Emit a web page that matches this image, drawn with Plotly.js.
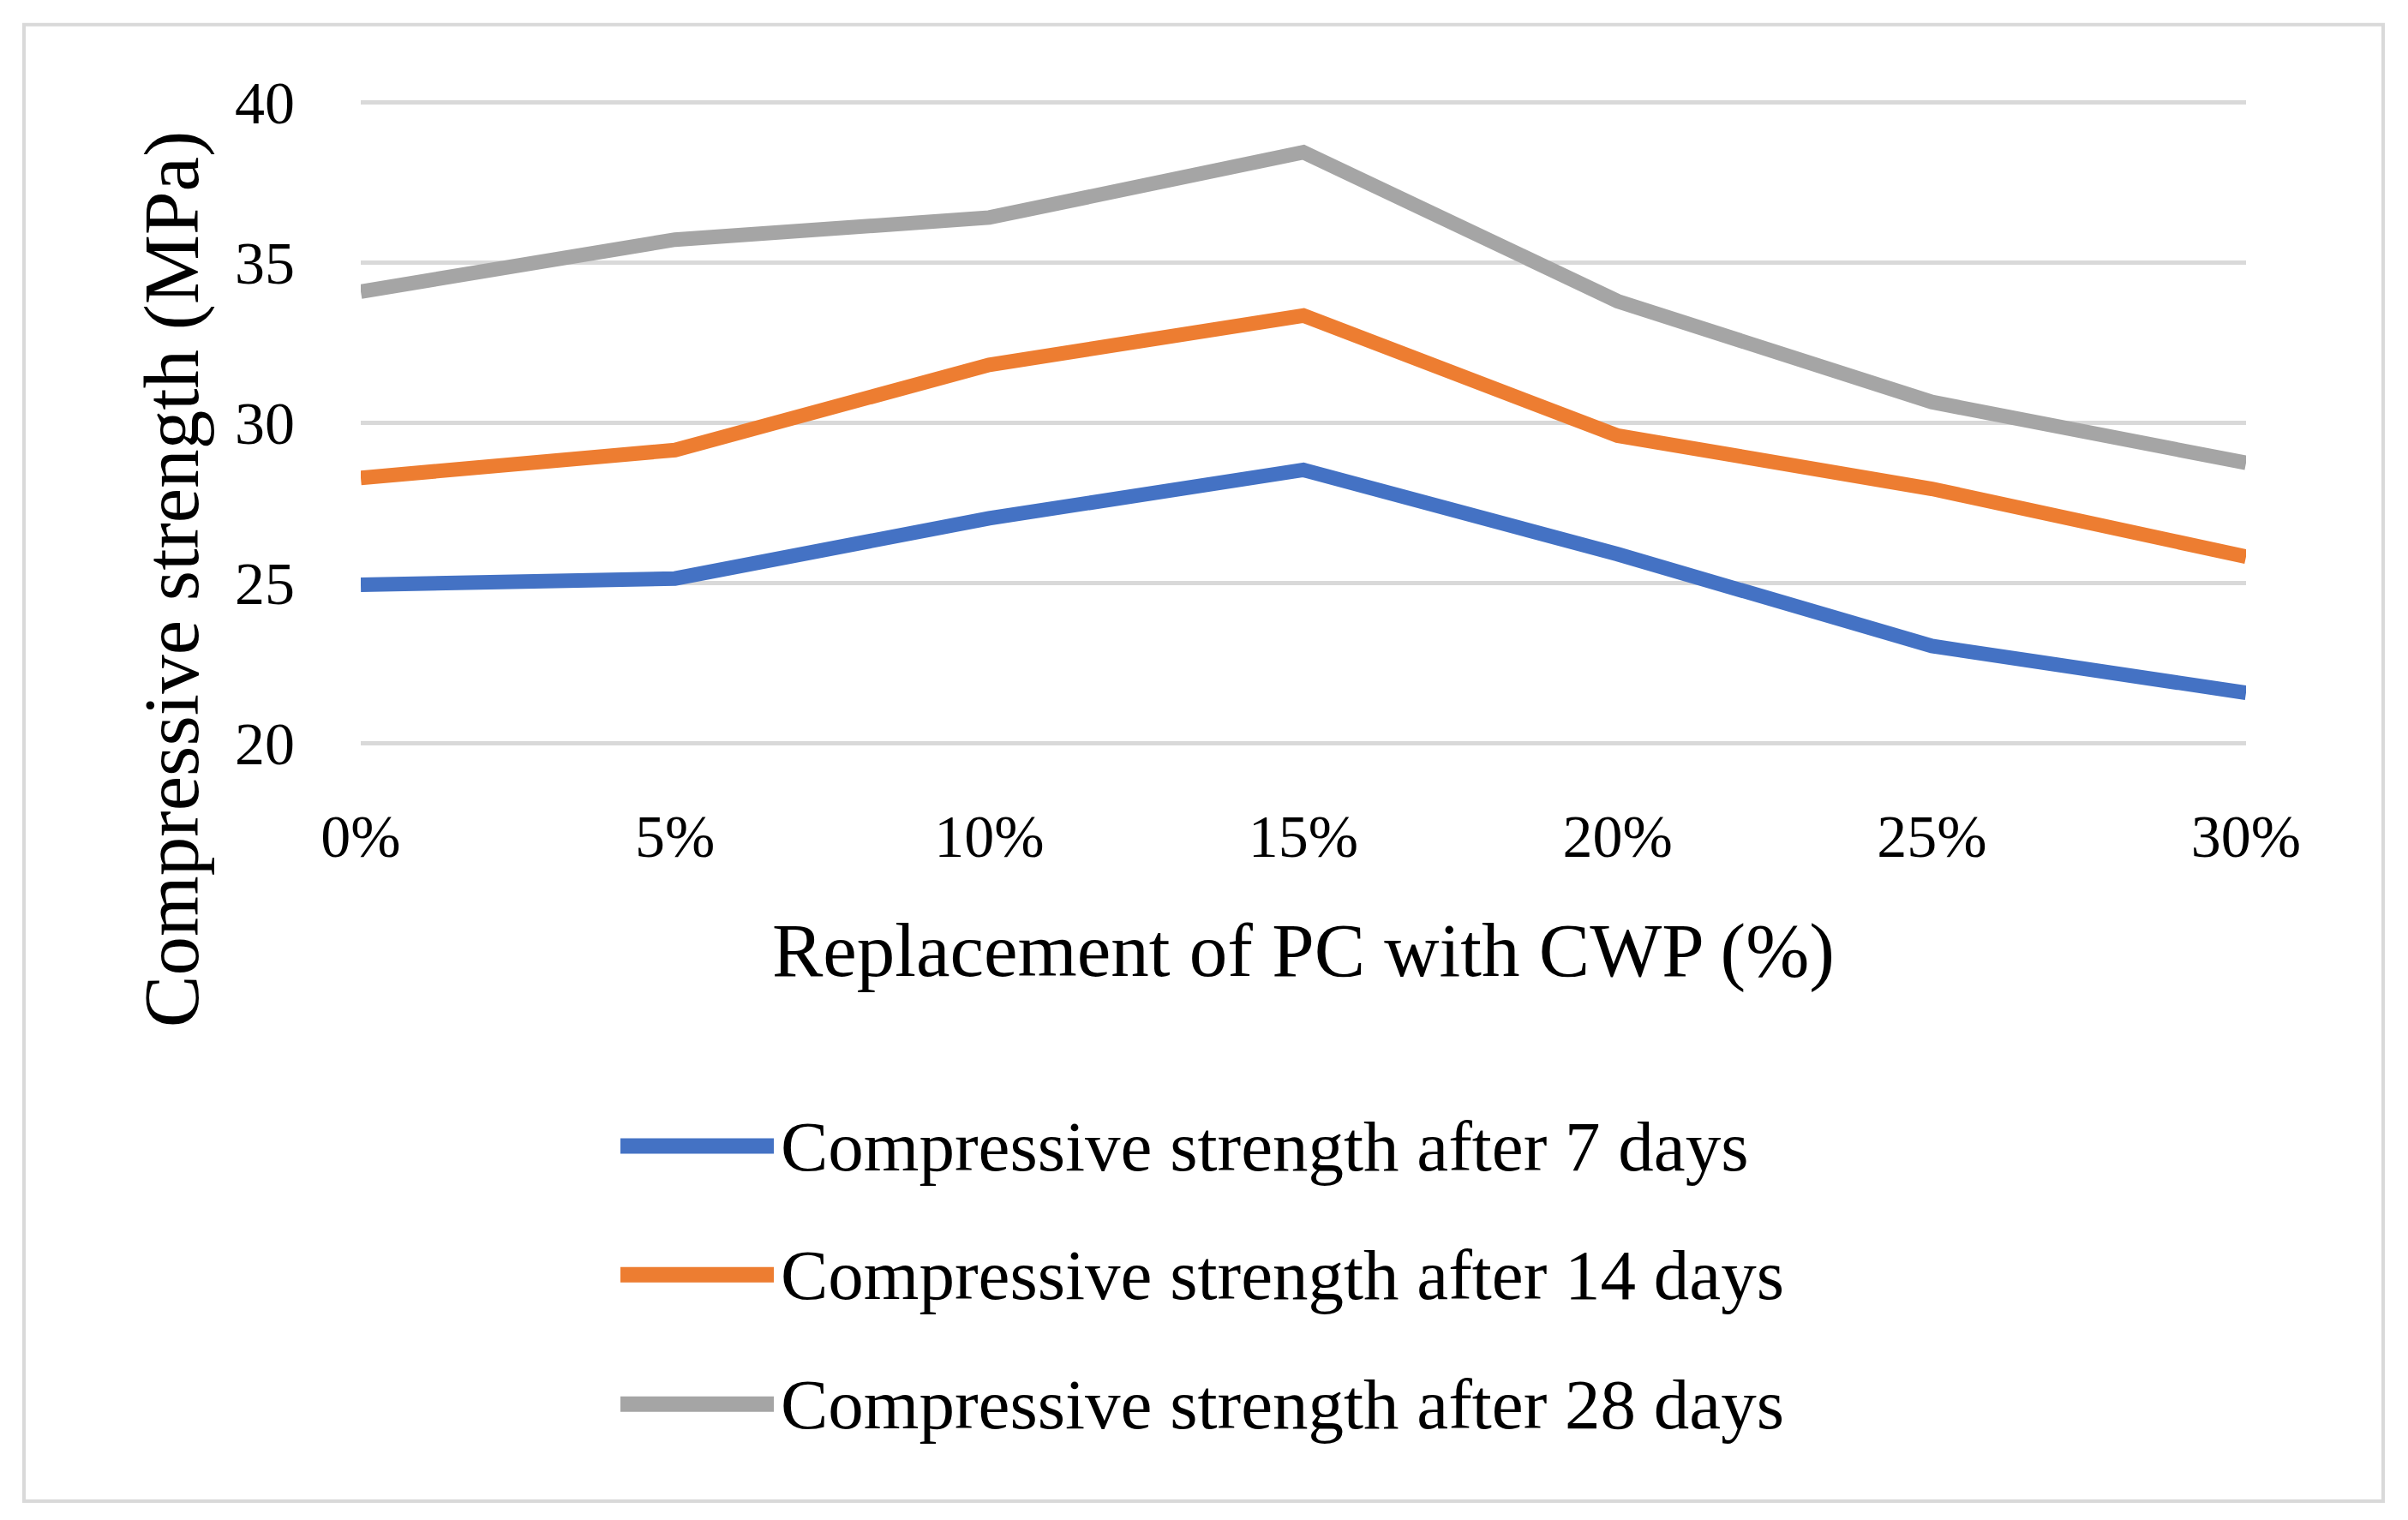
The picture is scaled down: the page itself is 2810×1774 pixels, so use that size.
<!DOCTYPE html>
<html>
<head>
<meta charset="utf-8">
<script src="https://cdn.plot.ly/plotly-3.0.1.min.js"></script>
<style>html,body{margin:0;padding:0;background:#fff;}#chart{width:2810px;height:1774px;}</style>
</head>
<body>
<div id="chart"></div>
<script>
const categories = ["0%", "5%", "10%", "15%", "20%", "25%", "30%"];
const seriesNames = [
  "Compressive strength after 7 days",
  "Compressive strength after 14 days",
  "Compressive strength after 28 days"
];
const days7  = [24.94, 25.14, 27.02, 28.53, 25.9, 23.03, 21.57];
const days14 = [28.28, 29.15, 31.81, 33.35, 29.6, 27.94, 25.82];
const days28 = [34.1, 35.72, 36.41, 38.45, 33.8, 30.65, 28.75];
const yTicks = [20, 25, 30, 35, 40];
const xTitle = "Replacement of PC with CWP (%)";
const yTitle = "Compressive strength (MPa)";

const colors = ["#4472C4", "#ED7D31", "#A5A5A5"];
const values = [days7, days14, days28];
const FONT = "Liberation Serif, Times New Roman, serif";

// plot area in pixels (20..40 spans 120..867 px); range padded slightly so edge gridlines draw
const W = 2810, H = 1774;
const pad = 0.1, pxPerUnit = (867 - 120) / 20;
const L = 421, R = 2621, T = 120 - pad * pxPerUnit, B = 867 + pad * pxPerUnit;
const pw = R - L, ph = B - T;
const px = x => (x - L) / pw;
const py = y => (B - y) / ph;

const traces = values.map((v, i) => ({
  type: "scatter",
  mode: "lines",
  x: categories,
  y: v,
  name: seriesNames[i],
  line: {color: colors[i], width: 17},
  showlegend: false,
  hoverinfo: "x+y+name"
}));

const shapes = [{
  type: "rect", xref: "paper", yref: "paper",
  x0: px(28), x1: px(2781), y0: py(1751), y1: py(29),
  line: {color: "#D9D9D9", width: 4}, fillcolor: "rgba(0,0,0,0)", layer: "below"
}];
const annotations = [
  {xref: "paper", yref: "paper", x: 0.5, y: py(1109), text: xTitle, showarrow: false,
   xanchor: "center", yanchor: "middle", font: {family: FONT, size: 89, color: "#000"}},
  {xref: "paper", yref: "paper", x: px(200), y: py(676), text: yTitle, showarrow: false,
   textangle: -90, xanchor: "center", yanchor: "middle", font: {family: FONT, size: 91, color: "#000"}}
];
const legendRows = [1337, 1487, 1638];
seriesNames.forEach((n, i) => {
  shapes.push({type: "line", xref: "paper", yref: "paper",
    x0: px(724), x1: px(903), y0: py(legendRows[i]), y1: py(legendRows[i]),
    line: {color: colors[i], width: 18}});
  annotations.push({xref: "paper", yref: "paper", x: px(909), y: py(legendRows[i]), text: n,
    showarrow: false, xanchor: "left", yanchor: "middle",
    font: {family: FONT, size: 83, color: "#000"}});
});

const layout = {
  width: W, height: H,
  margin: {l: L, r: W - R, t: T, b: H - B, pad: 0},
  paper_bgcolor: "#fff", plot_bgcolor: "#fff",
  showlegend: false,
  font: {family: FONT, color: "#000"},
  xaxis: {
    type: "category", range: [0, categories.length - 1],
    showgrid: false, zeroline: false, showline: false, ticks: "",
    tickfont: {family: FONT, size: 70, color: "#000"},
    ticklabelstandoff: 58, fixedrange: true
  },
  yaxis: {
    range: [20 - pad, 40 + pad], tickvals: yTicks, ticktext: yTicks.map(String),
    showgrid: true, gridcolor: "#D9D9D9", gridwidth: 5,
    zeroline: false, showline: false, ticks: "",
    tickfont: {family: FONT, size: 70, color: "#000"},
    ticklabelstandoff: 76, fixedrange: true
  },
  shapes: shapes,
  annotations: annotations
};

Plotly.newPlot("chart", traces, layout, {displayModeBar: false, staticPlot: true});
</script>
</body>
</html>
